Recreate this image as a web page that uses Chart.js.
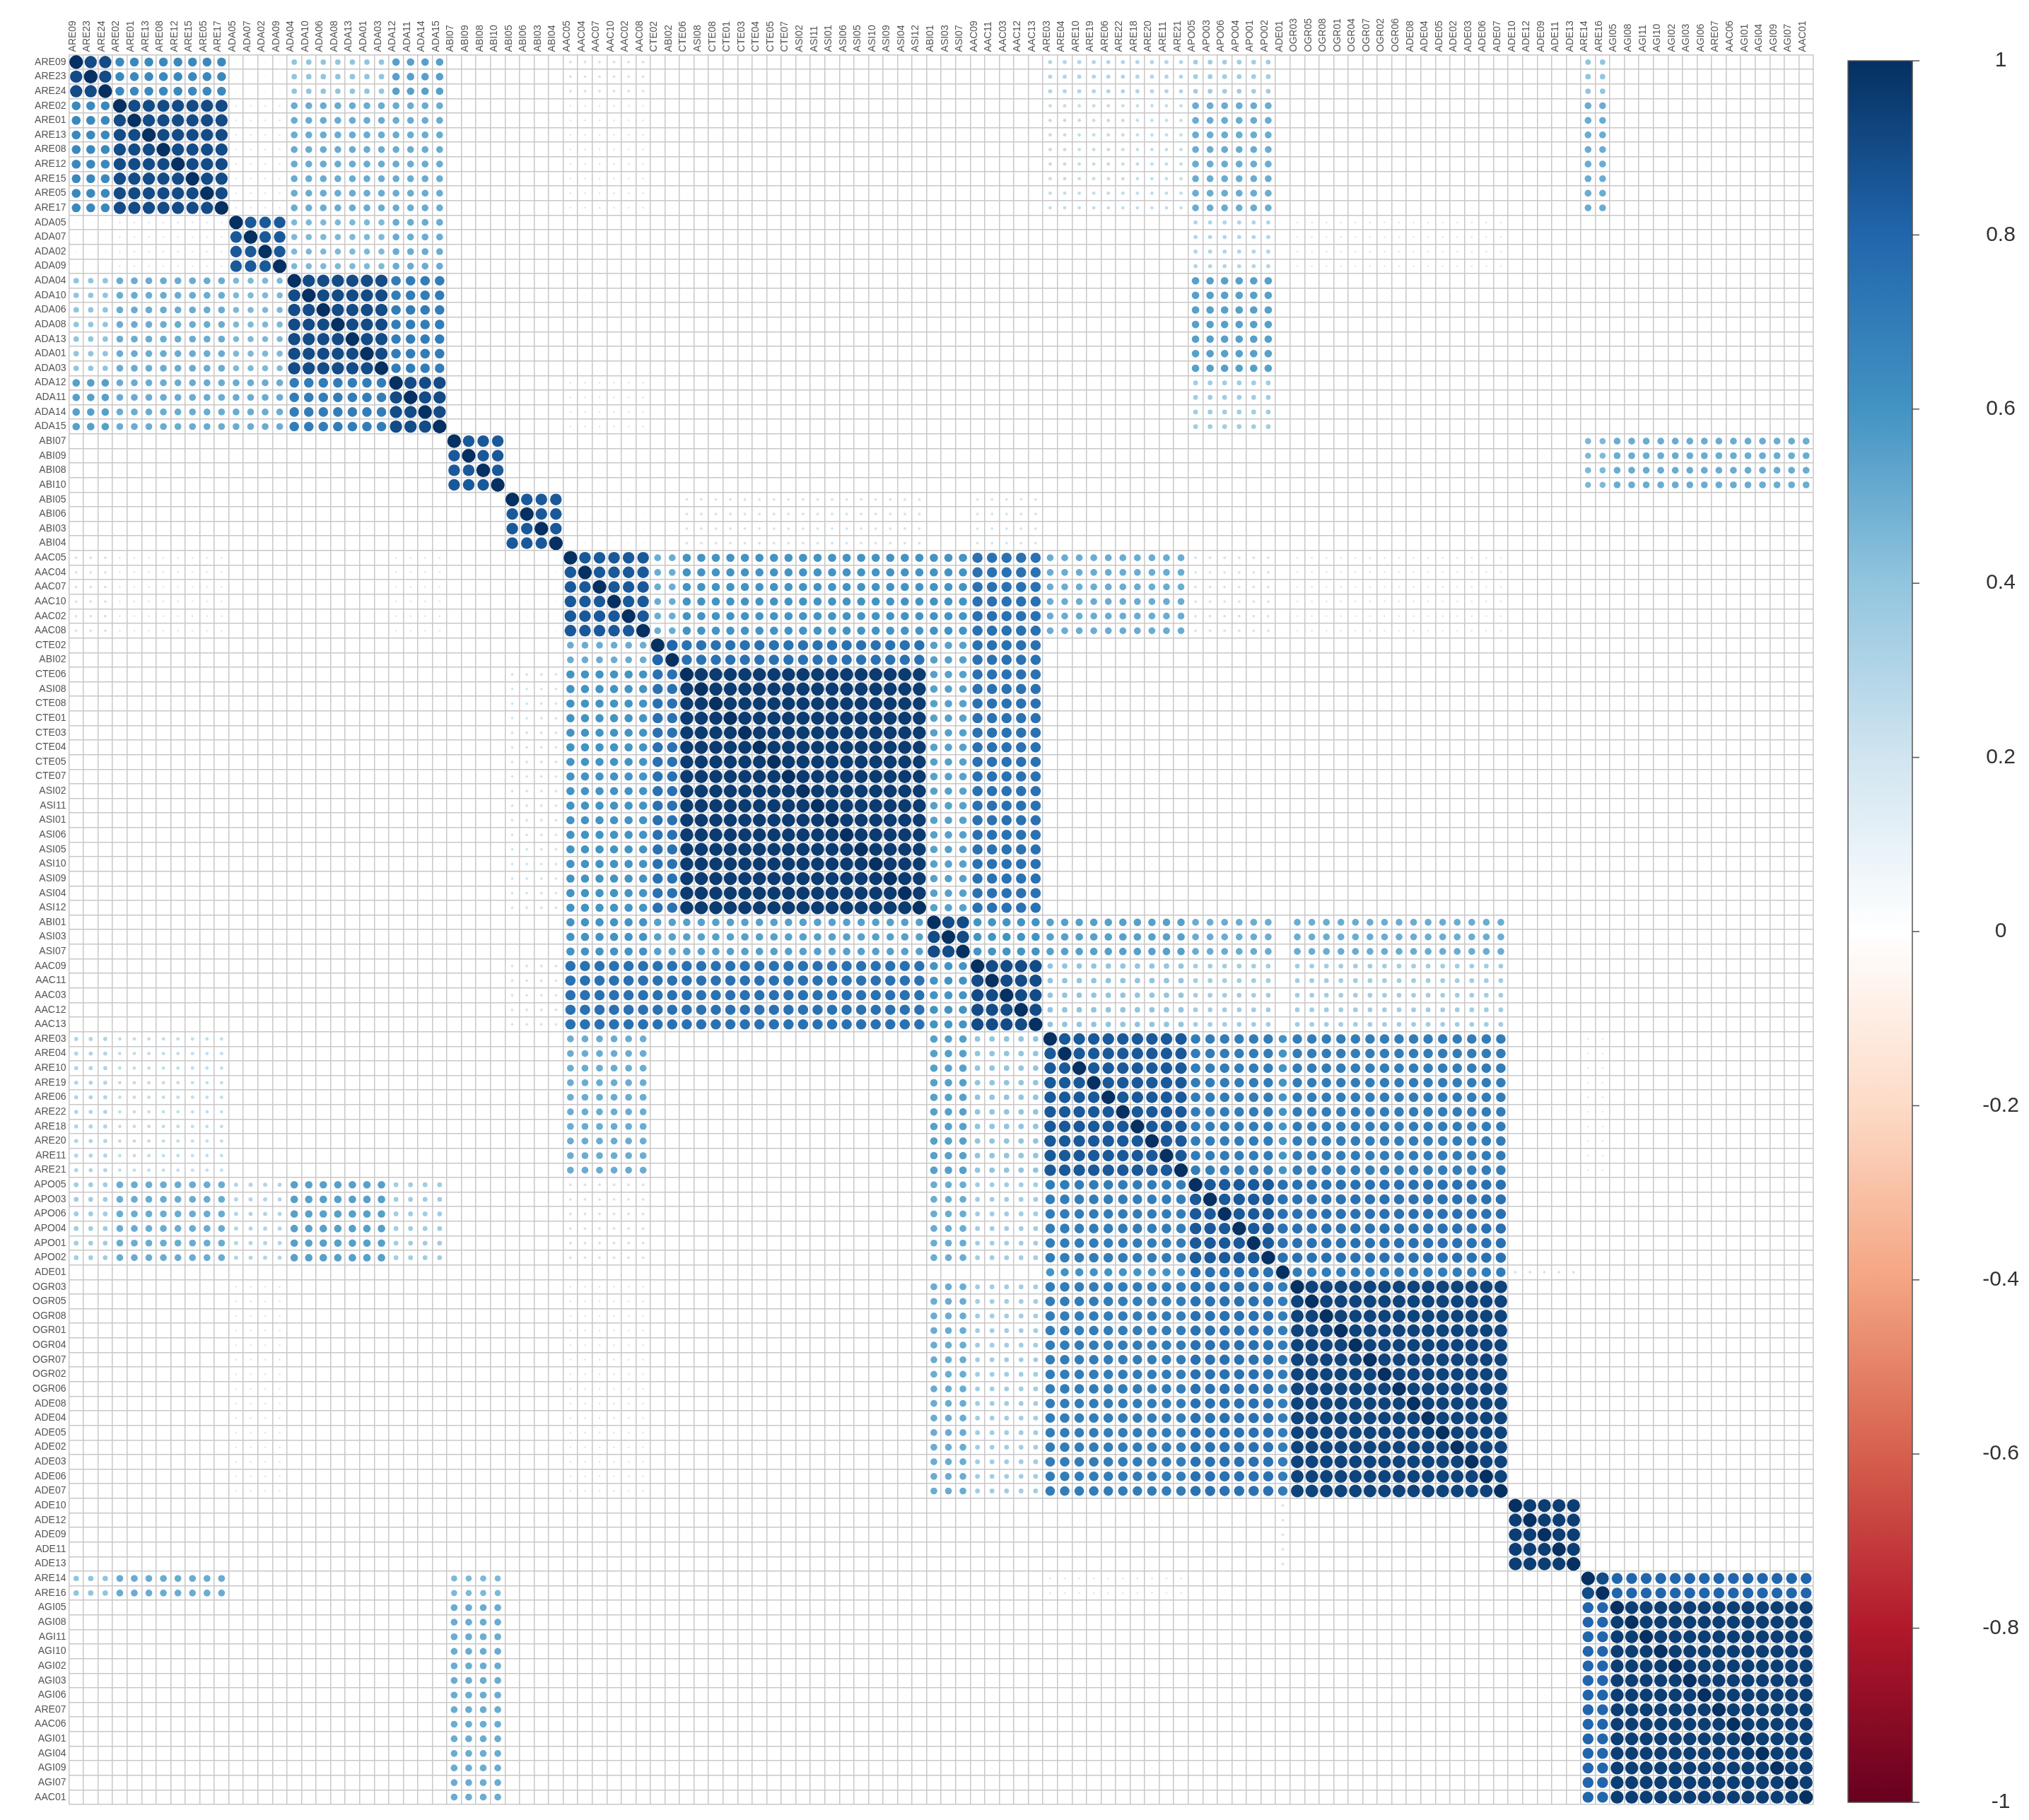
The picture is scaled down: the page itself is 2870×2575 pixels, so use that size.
<!DOCTYPE html>
<html><head><meta charset="utf-8">
<script src="https://cdn.jsdelivr.net/npm/chart.js@4/dist/chart.umd.min.js"></script>
<style>html,body{margin:0;background:#fff}</style></head>
<body><canvas id="c" width="2870" height="2575"></canvas>
<script>
const variables = ["ARE09","ARE23","ARE24","ARE02","ARE01","ARE13","ARE08","ARE12","ARE15","ARE05","ARE17",
"ADA05","ADA07","ADA02","ADA09","ADA04","ADA10","ADA06","ADA08","ADA13","ADA01","ADA03","ADA12","ADA11","ADA14","ADA15",
"ABI07","ABI09","ABI08","ABI10","ABI05","ABI06","ABI03","ABI04",
"AAC05","AAC04","AAC07","AAC10","AAC02","AAC08",
"CTE02","ABI02","CTE06","ASI08","CTE08","CTE01","CTE03","CTE04","CTE05","CTE07","ASI02","ASI11","ASI01","ASI06","ASI05","ASI10","ASI09","ASI04","ASI12",
"ABI01","ASI03","ASI07","AAC09","AAC11","AAC03","AAC12","AAC13",
"ARE03","ARE04","ARE10","ARE19","ARE06","ARE22","ARE18","ARE20","ARE11","ARE21",
"APO05","APO03","APO06","APO04","APO01","APO02","ADE01",
"OGR03","OGR05","OGR08","OGR01","OGR04","OGR07","OGR02","OGR06","ADE08","ADE04","ADE05","ADE02","ADE03","ADE06","ADE07",
"ADE10","ADE12","ADE09","ADE11","ADE13","ARE14","ARE16",
"AGI05","AGI08","AGI11","AGI10","AGI02","AGI03","AGI06","ARE07","AAC06","AGI01","AGI04","AGI09","AGI07","AAC01"];
// cluster sizes in the order above
const groupSizes = [3,8,4,7,4,4,4,6,2,17,3,5,10,6,1,15,5,2,14];
// estimated block correlations: [groupA, groupB, r]
const blockCorr = [
[0,0,0.9],[0,1,0.65],[1,1,0.9],
[0,2,0.1],[1,2,0.15],[0,3,0.4],[1,3,0.5],[0,4,0.55],[1,4,0.5],[0,7,0.2],[1,7,0.15],[0,12,0.3],[1,12,0.25],[0,13,0.35],[1,13,0.5],[0,17,0.4],[1,17,0.5],
[2,2,0.85],[2,3,0.45],[2,4,0.5],[2,13,0.3],[2,15,0.15],
[3,3,0.9],[3,4,0.7],[3,13,0.55],
[4,4,0.9],[4,13,0.35],[4,7,0.15],
[5,5,0.85],[5,18,0.5],[5,17,0.45],
[6,6,0.85],[6,9,0.2],[6,7,0.1],[6,11,0.2],
[7,7,0.85],[7,8,0.5],[7,9,0.6],[7,10,0.6],[7,11,0.75],[7,12,0.5],[7,13,0.2],[7,15,0.15],
[8,8,0.8],[8,9,0.75],[8,10,0.55],[8,11,0.75],
[9,9,0.96],[9,10,0.55],[9,11,0.75],[9,12,0.05],
[10,10,0.9],[10,11,0.6],[10,12,0.55],[10,13,0.5],[10,15,0.5],
[11,11,0.9],[11,12,0.4],[11,13,0.35],[11,15,0.35],
[12,12,0.85],[12,13,0.7],[12,14,0.6],[12,15,0.7],[12,17,0.15],
[13,13,0.85],[13,14,0.75],[13,15,0.75],
[14,15,0.7],[14,16,0.2],
[15,15,0.93],[16,16,0.95],
[17,17,0.9],[17,18,0.8],[18,18,0.95]
];
const colorbarTicks = ["1","0.8","0.6","0.4","0.2","0","-0.2","-0.4","-0.6","-0.8","-1"];
const palette = ["#67001F","#B2182B","#D6604D","#F4A582","#FDDBC7","#FFFFFF","#D1E5F0","#92C5DE","#4393C3","#2166AC","#053061"];

const groupOf=[];groupSizes.forEach((s,g)=>{for(let k=0;k<s;k++)groupOf.push(g);});
const B={};blockCorr.forEach(([a,b,r])=>{B[a+'_'+b]=r;B[b+'_'+a]=r;});
const points=[];
for(let i=0;i<variables.length;i++)for(let j=0;j<variables.length;j++){
  let r = i===j?1:(B[groupOf[i]+'_'+groupOf[j]] ?? 0.04);
  points.push({x:variables[j],y:variables[i],r:r});
}
function hex(h){return [1,3,5].map(k=>parseInt(h.substr(k,2),16));}
function col(r){const t=(r+1)/2*(palette.length-1);const i=Math.min(Math.floor(t),palette.length-2);const f=t-i;
 const a=hex(palette[i]),b=hex(palette[i+1]);return `rgb(${a.map((v,k)=>Math.round(v+(b[k]-v)*f)).join(',')})`;}

const colorbar={id:'cb',afterDraw(ch){const c=ch.ctx;const x=2614,w=91,top=86,bot=2550;
 const g=c.createLinearGradient(0,top,0,bot);palette.slice().reverse().forEach((p,k)=>g.addColorStop(k/(palette.length-1),p));
 c.fillStyle=g;c.fillRect(x,top,w,bot-top);c.strokeStyle='#555';c.lineWidth=1.5;c.strokeRect(x,top,w,bot-top);
 c.fillStyle='#333';c.font='30px "Liberation Sans"';c.textAlign='center';c.textBaseline='middle';
 colorbarTicks.forEach((t,k)=>{const y=top+(bot-top)*k/10;c.beginPath();c.moveTo(x+w,y);c.lineTo(x+w+10,y);c.stroke();c.fillText(t,2830,y);});
}};
new Chart(document.getElementById('c'),{type:'scatter',
 data:{datasets:[{data:points,
  pointRadius:ctx=>{const ca=ctx.chart.chartArea;const cs=ca?(ca.right-ca.left)/variables.length:20;const r=ctx.raw?Math.abs(ctx.raw.r):0;return Math.max(0.8,r*cs*0.47);},
  pointBackgroundColor:ctx=>col(ctx.raw?ctx.raw.r:0),pointBorderWidth:0,pointHoverRadius:0}]},
 options:{responsive:false,animation:false,devicePixelRatio:1,
  layout:{padding:{left:42,right:305,top:22,bottom:22}},
  plugins:{legend:{display:false},tooltip:{enabled:false}},
  scales:{
   x:{type:'category',labels:variables,position:'top',offset:true,
      grid:{offset:true,color:'#c8c8c8',lineWidth:1.5,drawTicks:false},border:{color:'#c8c8c8'},
      ticks:{autoSkip:false,maxRotation:90,minRotation:90,color:'#555',font:{family:'Liberation Sans',size:14},padding:4,labelOffset:12}},
   y:{type:'category',labels:variables,offset:true,
      grid:{offset:true,color:'#c8c8c8',lineWidth:1.5,drawTicks:false},border:{color:'#c8c8c8'},
      ticks:{autoSkip:false,color:'#555',font:{family:'Liberation Sans',size:14},padding:4}}
  }},
 plugins:[colorbar]});
</script></body></html>
